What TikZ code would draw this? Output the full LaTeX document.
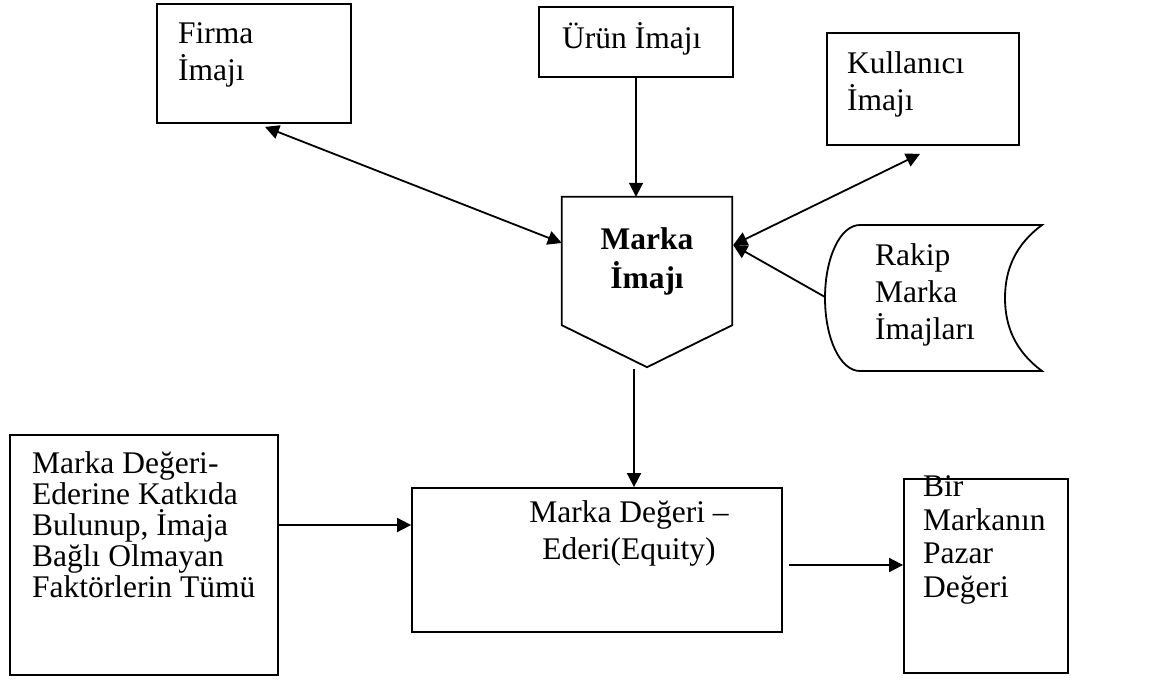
\documentclass[tikz,border=0pt]{standalone}
\usepackage{fontspec}
\setmainfont{Liberation Serif}
\usetikzlibrary{arrows.meta,calc}
\tikzset{
    box/.style = {draw, line width = 1.8pt, inner sep = 0pt},
    txt/.style = {inner sep = 0pt, align = left, font = \fontsize{31.5}{37}\selectfont},
    arr/.style = {line width = 1.8pt, -{Triangle[length = 14pt, width = 14pt]}},
    darr/.style = {line width = 1.8pt, {Triangle[length = 14pt, width = 14pt]}-{Triangle[length = 14pt, width = 14pt]}},
}

\begin{document}
\begin{tikzpicture}[x = 1pt, y = -1pt]
        \useasboundingbox (0,0) rectangle (1161,683);
        %Boxes
        \node[box, minimum width = 194pt, minimum height = 119pt] (firma) at (254,63.5) {};
        \node[box, minimum width = 194pt, minimum height = 70pt] (urun) at (636,42) {};
        \node[box, minimum width = 192pt, minimum height = 112pt] (kullanici) at (923,89) {};
        \node[box, minimum width = 268pt, minimum height = 240pt] (katki) at (144,555) {};
        \node[box, minimum width = 370pt, minimum height = 144pt] (deger) at (597,560) {};
        \node[box, minimum width = 164pt, minimum height = 194pt] (pazar) at (986,576) {};
        %Texts of the boxes (base = last line)
        \node[txt, anchor = base west] (firmatxt) at (178,80) {Firma\\İmajı};
        \node[txt, anchor = base west] (uruntxt) at (562,48) {Ürün İmajı};
        \node[txt, anchor = base west] (kullanicitxt) at (847,110) {Kullanıcı\\İmajı};
        \node[txt, anchor = base west, font = \fontsize{31.5}{31}\selectfont] (katkitxt) at (32,597) {Marka Değeri-\\Ederine Katkıda\\Bulunup, İmaja\\Bağlı Olmayan\\Faktörlerin Tümü};
        \node[txt, anchor = base, align = center] (degertxt) at (629,559) {Marka Değeri --\\Ederi(Equity)};
        \node[txt, anchor = base west, font = \fontsize{31.5}{33.5}\selectfont] (pazartxt) at (923,597) {Bir\\Markanın\\Pazar\\Değeri};
        %Marka imaji
        \node[inner sep = 0pt, minimum width = 170pt, minimum height = 128pt, align = center, font = \fontsize{31.5}{39}\selectfont\bfseries] (marka) at (647,261) {Marka\\İmajı};
        \draw[line width = 1.8pt, line join = miter] (marka.north west) -- (marka.north east) -- (marka.south east) -- ($(marka.south)+(0,42)$) -- (marka.south west) -- cycle;
        %Rakip marka imajlari
        \draw[line width = 1.8pt] (1042,225) -- (860,225) .. controls (840,225) and (825,258) .. (825,298) .. controls (825,338) and (840,371) .. (860,371) -- (1042,371) .. controls (1015,351) and (1005,326) .. (1005,298) .. controls (1005,270) and (1015,245) .. (1042,225) -- cycle;
        \node[txt, anchor = base west] (rakiptxt) at (875,339) {Rakip\\Marka\\İmajları};
        \coordinate (rakip) at (825,297);
        %Arrows
        \coordinate (mw) at ($(marka.west)+(0,-18)$);
        \coordinate (me) at ($(marka.east)+(1,-16)$);
        \coordinate (ms) at ($(marka.south)+(-13,44)$);
        \coordinate (ks) at ($(katki.east)+(0,-30)$);
        \coordinate (ds) at ($(deger.east)+(6,5)$);
        \draw[darr] ($(firma.south)+(11,3)$) -- (mw);
        \draw[arr] (urun.south) -- (urun.south |- marka.north);
        \draw[darr] ($(kullanici.south)+(-3,8)$) -- (me);
        \draw[arr] (rakip) -- (me);
        \draw[arr] (ms) -- (ms |- deger.north);
        \draw[arr] (ks) -- (ks -| deger.west);
        \draw[arr] (ds) -- (ds -| pazar.west);
\end{tikzpicture}
\end{document}
